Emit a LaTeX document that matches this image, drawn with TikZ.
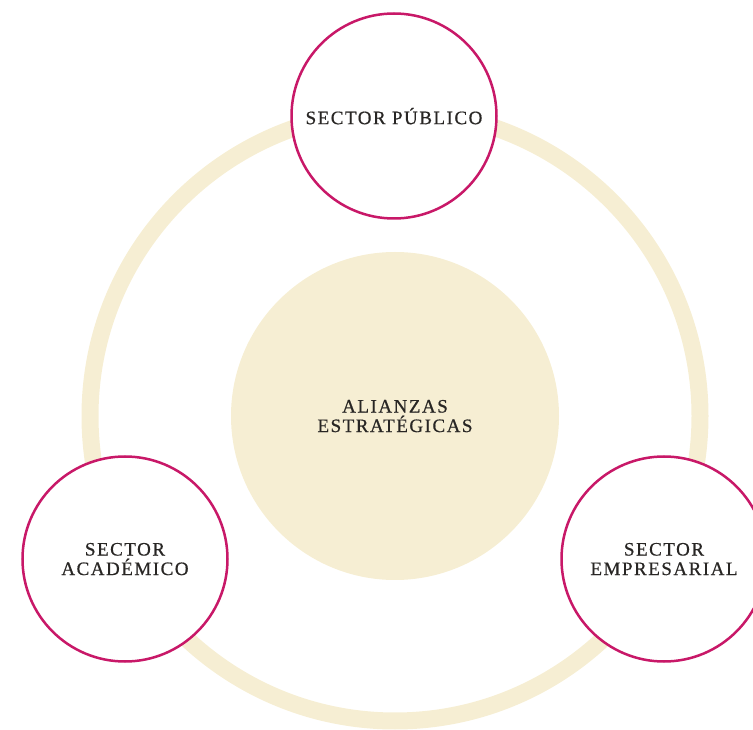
\documentclass[tikz,border=0pt]{standalone}
\usepackage{fontspec}
\setmainfont{Liberation Serif}
\newfontfamily\rotulo[LetterSpace=8,FakeBold=0.6]{Liberation Serif}
\usepackage{tikz}
\usetikzlibrary{positioning}
\definecolor{crema}{RGB}{246,238,211}
\definecolor{borde}{RGB}{200,24,104}
\definecolor{tinta}{RGB}{40,38,36}

\begin{document}
\begin{tikzpicture}[x=1pt,y=1pt]
	\tikzstyle{Sector}	= [circle, draw=borde, line width=2.5pt, fill=white, minimum size=205pt, inner sep=0pt, align=center, text=tinta, text depth=-6pt, font=\rotulo\fontsize{19}{19.5}\selectfont]
	\tikzstyle{Centro}	= [circle, fill=crema, minimum size=328pt, inner sep=0pt, align=center, text=tinta, text depth=-6pt, font=\rotulo\fontsize{19}{19.5}\selectfont]
	\tikzstyle{Anillo}	= [crema, line width=17pt]
	
	\useasboundingbox (0,0) rectangle (753,729);
	\clip (0,0) rectangle (753,729);
	
	\draw [Anillo] (395,313) circle (305pt);
	\node (alianzas) at (395,313) [Centro] {ALIANZAS\\ESTRATÉGICAS};
	
	\node (publico) at (394,613) [Sector] {SECTOR PÚBLICO};
	\node (academico) at (125,170) [Sector] {SECTOR\\ACADÉMICO};
	\node (empresarial) at (664,170) [Sector] {SECTOR\\EMPRESARIAL};
\end{tikzpicture}
\end{document}
